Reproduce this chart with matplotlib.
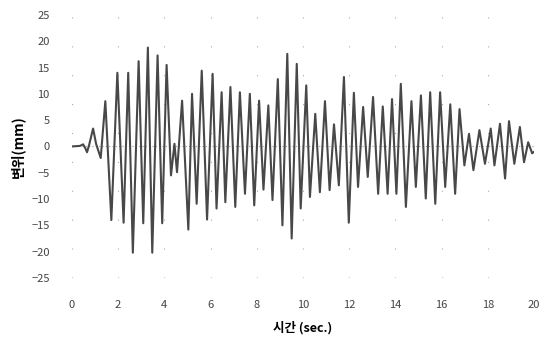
import matplotlib
matplotlib.use("Agg")
import matplotlib.pyplot as plt

plt.rcParams['font.family'] = ['Noto Sans CJK KR', 'DejaVu Sans']

# Peak / trough readings (time in sec., displacement in mm)
time_sec = [0, 0.35, 0.49, 0.58, 0.66, 0.75, 0.92, 1.05, 1.25, 1.45, 1.71, 1.97, 2.24, 2.44,
            2.64, 2.89, 3.09, 3.29, 3.48, 3.71, 3.91, 4.1, 4.29, 4.44, 4.55, 4.77, 5.04, 5.2,
            5.4, 5.62, 5.85, 6.09, 6.26, 6.48, 6.64, 6.86, 7.07, 7.27, 7.49, 7.7, 7.89, 8.1,
            8.29, 8.5, 8.68, 8.91, 9.11, 9.32, 9.51, 9.73, 9.9, 10.14, 10.3, 10.53, 10.73,
            10.95, 11.15, 11.34, 11.55, 11.77, 11.98, 12.2, 12.38, 12.6, 12.8, 13.03, 13.25,
            13.45, 13.66, 13.85, 14.04, 14.23, 14.45, 14.69, 14.88, 15.1, 15.31, 15.5, 15.72,
            15.93, 16.15, 16.37, 16.58, 16.77, 16.98, 17.18, 17.37, 17.63, 17.87, 18.12, 18.28,
            18.52, 18.74, 18.91, 19.14, 19.38, 19.56, 19.74, 19.91, 20.0]
disp_mm = [0, 0.1, 0.4, -0.3, -1.1, 0.3, 3.4, 0.5, -2.2, 8.6, -14.0, 14.0, -14.5, 14.0,
           -20.2, 16.2, -14.6, 18.8, -20.2, 17.3, -14.6, 15.5, -5.5, 0.5, -4.9, 8.7, -15.8, 10.0,
           -10.9, 14.4, -13.9, 13.8, -11.8, 10.3, -10.6, 11.3, -11.5, 10.3, -9.0, 10.0, -11.2, 8.7,
           -8.2, 7.8, -10.2, 12.8, -15.0, 17.6, -17.5, 15.7, -11.8, 11.6, -9.6, 6.2, -8.7,
           8.6, -8.3, 4.2, -7.4, 13.2, -14.5, 10.2, -7.7, 7.5, -5.8, 9.4, -9.0,
           7.6, -9.0, 9.0, -9.0, 11.9, -11.5, 8.6, -7.7, 9.7, -9.9, 10.3, -10.9,
           10.3, -7.7, 8.0, -9.0, 7.1, -3.6, 2.4, -4.5, 3.1, -3.3, 3.4, -3.6,
           4.3, -6.1, 4.8, -3.3, 3.7, -3.0, 0.8, -1.3, -1.0]

x_ticks = list(range(0, 21, 2))
y_ticks = list(range(-25, 26, 5))

fig = plt.figure(figsize=(5.44, 3.47), dpi=100)
ax = fig.add_axes([0.132, 0.199, 0.85, 0.758])

ax.axhline(0, color='#999999', lw=0.8, ls=(0, (1, 2)), zorder=1)
ax.plot(time_sec, disp_mm, color='#484848', lw=1.5, zorder=2)

ax.set_xlim(0, 20)
ax.set_ylim(-25, 25)
ax.set_xticks(x_ticks)
ax.set_yticks(y_ticks)
ax.grid(axis='x', color='#aaaaaa', lw=0.8, ls=(0, (1, 25)))

# no frame in the original
for side in ['top', 'right', 'bottom', 'left']:
    ax.spines[side].set_visible(False)
ax.tick_params(length=0, labelsize=8, colors='#444444')
ax.tick_params(axis='x', pad=16)
ax.tick_params(axis='y', pad=16)

ax.set_xlabel('시간 (sec.)', fontsize=9, fontweight='bold', labelpad=8)
ax.set_ylabel('변위(mm)', fontsize=10, fontweight='bold', labelpad=4)

fig.savefig('out.png', dpi=100)
